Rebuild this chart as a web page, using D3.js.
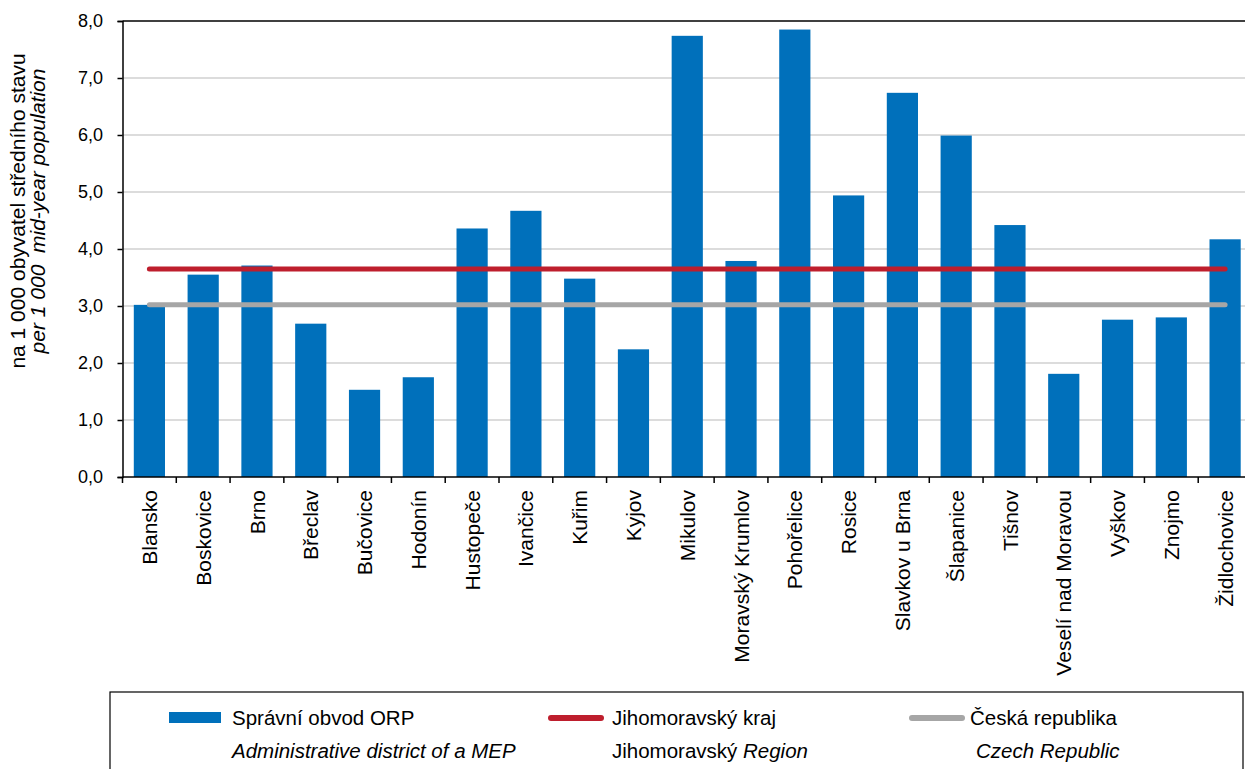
<!DOCTYPE html>
<html>
<head>
<meta charset="utf-8">
<script src="https://cdn.jsdelivr.net/npm/d3@7/dist/d3.min.js"></script>
<style>
  html, body { margin: 0; padding: 0; background: #ffffff; }
  svg { display: block; font-family: "Liberation Sans", Arial, Helvetica, sans-serif; }
</style>
</head>
<body>
<svg id="chart" width="1245" height="769"></svg>
<script>
const categories = ["Blansko", "Boskovice", "Brno", "Břeclav", "Bučovice", "Hodonín", "Hustopeče",
  "Ivančice", "Kuřim", "Kyjov", "Mikulov", "Moravský Krumlov", "Pohořelice", "Rosice",
  "Slavkov u Brna", "Šlapanice", "Tišnov", "Veselí nad Moravou", "Vyškov", "Znojmo", "Židlochovice"];
const orpValues = [3.02, 3.55, 3.71, 2.69, 1.53, 1.75, 4.36, 4.67, 3.48, 2.24, 7.74, 3.79, 7.85, 4.94,
  6.74, 5.99, 4.42, 1.81, 2.76, 2.80, 4.17];
const regionValue = 3.65;   // Jihomoravský kraj
const czechValue = 3.02;    // Česká republika
const yTicks = [0, 1, 2, 3, 4, 5, 6, 7, 8];
const yTitle = ["na 1 000 obyvatel středního stavu", "per 1 000  mid-year population"];
const legendItems = [
  { key: "orp", main: "Správní obvod ORP", sub: [{ t: "Administrative district of a MEP", i: true }] },
  { key: "region", main: "Jihomoravský kraj", sub: [{ t: "Jihomoravský ", i: false }, { t: "Region", i: true }] },
  { key: "cz", main: "Česká republika", sub: [{ t: "Czech Republic", i: true }] }
];

const colors = { orp: "#0070bb", region: "#be1e2d", cz: "#a6a6a6" };

const svg = d3.select("#chart");
const pLeft = 122.5, pRight = 1252, pTop = 21, pBottom = 477;

const x = d3.scaleBand().domain(categories).range([pLeft, pRight]).paddingInner(0.42).paddingOuter(0.21);
const y = d3.scaleLinear().domain([0, 8]).range([pBottom, pTop]);

// gridlines
svg.append("g").selectAll("line").data(yTicks.filter(d => d > 0 && d < 8)).join("line")
  .attr("x1", pLeft).attr("x2", 1245)
  .attr("y1", d => y(d)).attr("y2", d => y(d))
  .attr("stroke", "#d0d0d0").attr("stroke-width", 1.5);

// top frame line
svg.append("line").attr("x1", pLeft).attr("x2", 1245).attr("y1", y(8)).attr("y2", y(8))
  .attr("stroke", "#000").attr("stroke-width", 1.5);

// bars
svg.append("g").selectAll("rect").data(categories).join("rect")
  .attr("x", d => x(d)).attr("width", x.bandwidth())
  .attr("y", (d, i) => y(orpValues[i])).attr("height", (d, i) => y(0) - y(orpValues[i]))
  .attr("fill", colors.orp);

// reference lines
const first = x(categories[0]) + x.bandwidth() / 2;
const last = x(categories[categories.length - 1]) + x.bandwidth() / 2;
[[czechValue, colors.cz], [regionValue, colors.region]].forEach(([v, c]) => {
  svg.append("line").attr("x1", first).attr("x2", last).attr("y1", y(v)).attr("y2", y(v))
    .attr("stroke", c).attr("stroke-width", 5).attr("stroke-linecap", "round");
});

// y axis
const yAxis = d3.axisLeft(y).tickValues(yTicks).tickSize(5).tickPadding(14.5)
  .tickFormat(d => d3.format(".1f")(d).replace(".", ","));
const yg = svg.append("g").attr("transform", `translate(${pLeft},0)`).call(yAxis);
yg.select(".domain").attr("stroke", "#000").attr("stroke-width", 1.5);
yg.selectAll(".tick line").attr("stroke", "#000").attr("stroke-width", 1.5);
yg.selectAll(".tick text").attr("font-size", 18).attr("fill", "#000")
  .attr("font-family", "Liberation Sans, Arial, sans-serif");

// x axis baseline
svg.append("line").attr("x1", pLeft).attr("x2", 1245).attr("y1", y(0)).attr("y2", y(0))
  .attr("stroke", "#000").attr("stroke-width", 1.5);
// x ticks at band boundaries
const half = x.step() / 2;
const boundaries = categories.map(c => x(c) + x.bandwidth() / 2 - half).concat([x(categories[categories.length - 1]) + x.bandwidth() / 2 + half]);
svg.append("g").selectAll("line").data(boundaries).join("line")
  .attr("x1", d => d).attr("x2", d => d).attr("y1", y(0)).attr("y2", y(0) + 6)
  .attr("stroke", "#000").attr("stroke-width", 1.5);
// x labels
svg.append("g").selectAll("text").data(categories).join("text")
  .attr("transform", d => `translate(${x(d) + x.bandwidth() / 2},${y(0) + 13}) rotate(-90)`)
  .attr("text-anchor", "end").attr("dy", "0.36em")
  .attr("font-size", 21).attr("fill", "#000").text(d => d);

// y title
const yt = svg.append("g").attr("transform", "translate(0,211) rotate(-90)");
yt.append("text").attr("x", 0).attr("y", 25).attr("text-anchor", "middle")
  .attr("font-size", 21).attr("fill", "#000").text(yTitle[0]);
yt.append("text").attr("x", 0).attr("y", 45).attr("text-anchor", "middle")
  .attr("font-size", 21).attr("font-style", "italic").attr("fill", "#000")
  .attr("xml:space", "preserve").style("white-space", "pre").text(yTitle[1]);

// legend
svg.append("rect").attr("x", 110).attr("y", 692).attr("width", 1133).attr("height", 100)
  .attr("fill", "none").attr("stroke", "#000").attr("stroke-width", 1.2);
const legendX = [{ sym: 169, txt: 232 }, { sym: 548, txt: 612 }, { sym: 909, txt: 970 }];
legendItems.forEach((item, i) => {
  const lx = legendX[i];
  if (item.key === "orp") {
    svg.append("rect").attr("x", lx.sym).attr("y", 712).attr("width", 52).attr("height", 11).attr("fill", colors.orp);
  } else {
    svg.append("line").attr("x1", lx.sym + 3).attr("x2", lx.sym + 53).attr("y1", 718).attr("y2", 718)
      .attr("stroke", colors[item.key]).attr("stroke-width", 6).attr("stroke-linecap", "round");
  }
  svg.append("text").attr("x", lx.txt).attr("y", 725).attr("font-size", 20.5).attr("fill", "#000").text(item.main);
  const t = svg.append("text").attr("x", lx.txt + (item.key === "cz" ? 6 : 0)).attr("y", 758)
    .attr("font-size", 20.5).attr("fill", "#000");
  item.sub.forEach(s => t.append("tspan").attr("font-style", s.i ? "italic" : "normal").text(s.t));
});
</script>
</body>
</html>
